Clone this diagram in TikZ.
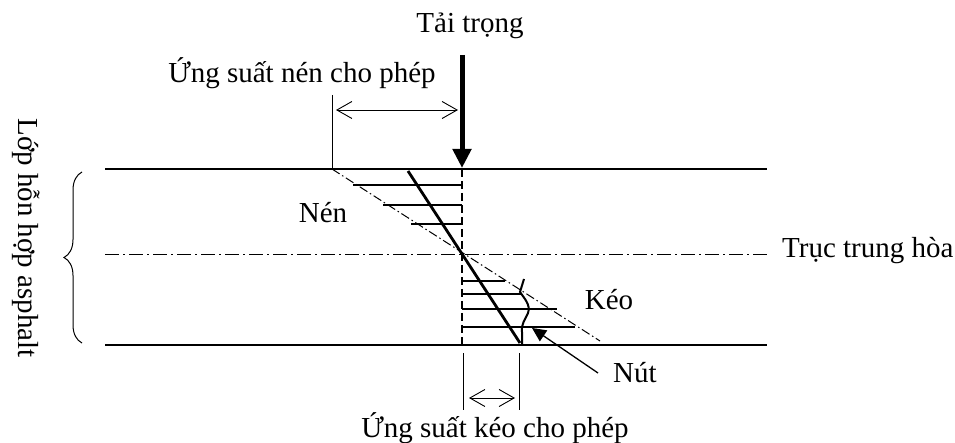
\documentclass[tikz,border=0pt]{standalone}
\usepackage{fontspec}
\setmainfont{Liberation Serif}
\usetikzlibrary{arrows.meta,decorations.pathreplacing}
\begin{document}
\begin{tikzpicture}[x=1pt,y=-1pt,
  lbl/.style={font=\fontsize{29}{34}\selectfont, inner sep=0pt},
  thickline/.style={line width=2.8pt},
  hatch/.style={line width=1.3pt},
  dimline/.style={line width=0.9pt},
  dimarrow/.style={line width=0.9pt,{Straight Barb[length=15pt,width=17pt]}-{Straight Barb[length=15pt,width=17pt]}},
  axisline/.style={line width=1pt, dash pattern=on 14pt off 4pt on 2pt off 4pt},
  diagaxis/.style={line width=1pt, dash pattern=on 9pt off 3pt on 1.5pt off 3pt},
]
\useasboundingbox (0,0) rectangle (955,443);
% key points
\coordinate (TL) at (105,169); \coordinate (TR) at (767,169);
\coordinate (BL) at (105,345); \coordinate (BR) at (767,345);
\coordinate (NL) at (105,255); \coordinate (NR) at (767,255);
\coordinate (LoadTop) at (462,55); \coordinate (LoadTip) at (462,168);
\coordinate (DT) at (462,169); \coordinate (DB) at (462,345);
\coordinate (Q1) at (332,169); \coordinate (Q2) at (600,341);
\coordinate (S1) at (408,171); \coordinate (S2) at (520,343);
% labels
\node[lbl, anchor=base] (load) at (470,33) {Tải trọng};
\node[lbl, anchor=base] (nencp) at (302,83) {Ứng suất nén cho phép};
\node[lbl, anchor=base] (nen) at (323,223) {Nén};
\node[lbl, anchor=base] (keo) at (609,310) {Kéo};
\node[lbl, anchor=base west] (nut) at (613,382) {Nút};
\node[lbl, anchor=base west] (truc) at (782,258) {Trục trung hòa};
\node[lbl, anchor=base] (keocp) at (495,437) {Ứng suất kéo cho phép};
\node[lbl, rotate=-90, anchor=base] (lop) at (18,238) {Lớp hỗn hợp asphalt};
% layer lines
\draw[thickline] (TL) -- (TR);
\draw[thickline] (BL) -- (BR);
\draw[axisline] (NL) -- (NR);
% load arrow
\draw[line width=5pt,-{Triangle[length=19pt,width=18pt]}] (LoadTop) -- (LoadTip);
% dashed vertical
\draw[line width=2.6pt, dash pattern=on 8pt off 4pt] (DT) -- (DB);
% stress distribution
\draw[diagaxis] (Q1) -- (Q2);
\draw[hatch] (353,185) -- (462,185);
\draw[hatch] (383,205) -- (462,205);
\draw[hatch] (411,224) -- (462,224);
\draw[hatch] (462,281) -- (505,281);
\draw[hatch] (462,294) -- (521,294);
\draw[hatch] (462,309) -- (557,309);
\draw[hatch] (462,327) -- (575,327);
\draw[thickline] (S1) -- (S2);
% crack
\draw[line width=2pt] (524,279) -- (520,292) .. controls (524,298) and (531,305) .. (528,313)
  .. controls (525,320) and (521,324) .. (522,332) -- (522,345);
% crack arrow
\coordinate (NutTail) at (598,373); \coordinate (NutTip) at (532,328);
\draw[line width=1.3pt,-{Triangle[length=14pt,width=13pt]}] (NutTail) -- (NutTip);
% top dimension
\coordinate (V1) at (332,95);
\draw[dimline] (V1) -- (Q1);
\coordinate (A1) at (336,110); \coordinate (A2) at (458,110);
\draw[dimarrow] (A1) -- (A2);
% bottom dimension
\coordinate (W1a) at (463,353); \coordinate (W1b) at (463,410);
\coordinate (W2a) at (519,353); \coordinate (W2b) at (519,410);
\draw[dimline] (W1a) -- (W1b);
\draw[dimline] (W2a) -- (W2b);
\coordinate (B1) at (469,398); \coordinate (B2) at (515,398);
\draw[dimarrow] (B1) -- (B2);
% brace
\coordinate (BrB) at (82,343); \coordinate (BrT) at (82,172);
\draw[line width=1pt, decorate, decoration={brace, amplitude=18pt}] (BrB) -- (BrT);
\end{tikzpicture}
\end{document}
